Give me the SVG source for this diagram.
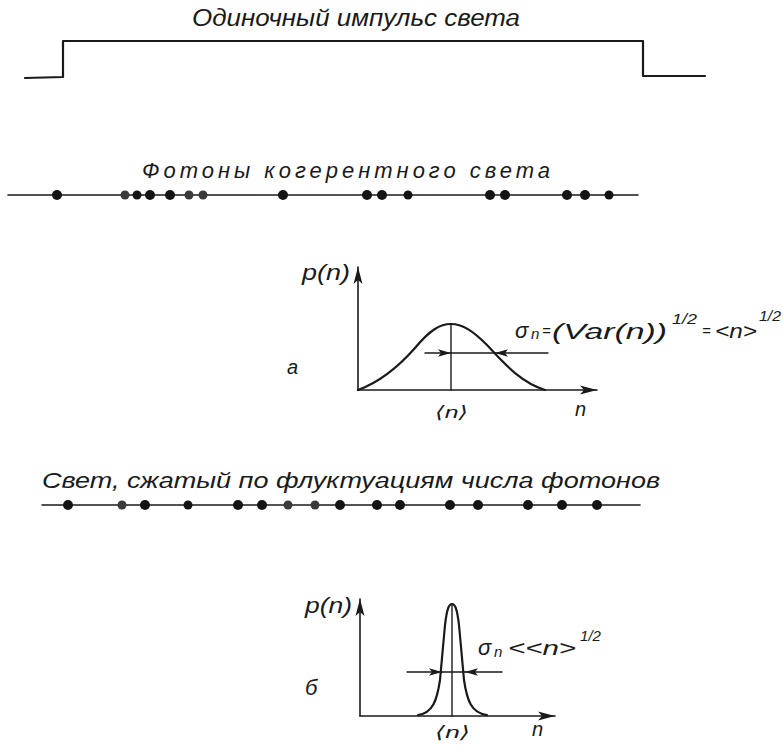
<svg xmlns="http://www.w3.org/2000/svg" width="783" height="747" viewBox="0 0 783 747">
  <style>
    .t { font-family: "Liberation Sans", "DejaVu Sans", sans-serif; font-style: italic; fill: #1a1a1a; }
    .ln { stroke: #1a1a1a; fill: none; stroke-linecap: round; stroke-linejoin: round; }
    .dot { fill: #141414; }
    .dotg { fill: #3a3a3a; }
  </style>
  <defs>
    <marker id="ax" markerUnits="userSpaceOnUse" markerWidth="18" markerHeight="12" viewBox="0 -6 18 12" refX="17" refY="0" orient="auto">
      <path d="M0,-4.5 L17,0 L0,4.5 L4,0 z" fill="#1a1a1a"/>
    </marker>
    <marker id="sa" markerUnits="userSpaceOnUse" markerWidth="14" markerHeight="10" viewBox="0 -5 14 10" refX="13" refY="0" orient="auto">
      <path d="M0,-3.8 L13,0 L0,3.8 L3,0 z" fill="#1a1a1a"/>
    </marker>
  </defs>
  <rect width="783" height="747" fill="#ffffff"/>

  <g id="pulse">
    <text class="t" x="192" y="26" font-size="23" textLength="328" lengthAdjust="spacingAndGlyphs">Одиночный импульс света</text>
    <path class="ln" stroke-width="2.2" d="M25,78 L63,77 L63,41 L643,41 L643,76 L705,76"/>
  </g>

  <g id="coherent">
    <text class="t" x="142" y="178" font-size="22" textLength="408" lengthAdjust="spacing">Фотоны когерентного света</text>
    <line class="ln" stroke-width="1.6" x1="8" y1="195" x2="638" y2="195"/>
    <g class="dot">
      <circle cx="57" cy="195" r="5"/>
      <circle cx="125" cy="195" r="4.5" class="dotg"/>
      <circle cx="137" cy="195" r="4.5"/>
      <circle cx="150" cy="195" r="5"/>
      <circle cx="170" cy="195" r="5"/>
      <circle cx="189" cy="195" r="4.5" class="dotg"/>
      <circle cx="203" cy="195" r="4.5" class="dotg"/>
      <circle cx="283" cy="195" r="5"/>
      <circle cx="367" cy="195" r="5"/>
      <circle cx="382" cy="195" r="5"/>
      <circle cx="408" cy="195" r="4.5"/>
      <circle cx="490" cy="195" r="5"/>
      <circle cx="505" cy="195" r="5"/>
      <circle cx="567" cy="195" r="5"/>
      <circle cx="585" cy="195" r="5"/>
      <circle cx="609" cy="195" r="4.5"/>
    </g>
  </g>

  <g id="graph-a">
    <text class="t" x="302" y="280" font-size="22" textLength="48" lengthAdjust="spacingAndGlyphs">p(n)</text>
    <text class="t" x="287" y="374" font-size="20">а</text>
    <line class="ln" stroke-width="1.6" x1="358" y1="390" x2="358" y2="267" marker-end="url(#ax)"/>
    <line class="ln" stroke-width="1.6" x1="358" y1="390" x2="597" y2="390" marker-end="url(#ax)"/>
    <path class="ln" stroke-width="2.2" d="M358,390 C380,382 400,365 415,348 C430,330 440,324 451,324 C462,324 472,330 487,345 C505,364 520,382 545,390"/>
    <line class="ln" stroke-width="1.4" x1="451" y1="324" x2="451" y2="390"/>
    <line class="ln" stroke-width="1.4" x1="425" y1="353" x2="451" y2="353" marker-end="url(#sa)"/>
    <line class="ln" stroke-width="1.4" x1="451" y1="353" x2="495" y2="353"/>
    <line class="ln" stroke-width="1.4" x1="548" y1="353" x2="495" y2="353" marker-end="url(#sa)"/>
    <text class="t" x="435" y="418" font-size="17" textLength="33" lengthAdjust="spacingAndGlyphs">⟨n⟩</text>
    <text class="t" x="575" y="416" font-size="20">n</text>
    <text class="t" x="515" y="338" font-size="22">σ</text>
    <text class="t" x="531" y="339" font-size="15">n</text>
    <text class="t" x="542" y="336" font-size="15">=</text>
    <text class="t" x="552" y="339" font-size="22" textLength="115" lengthAdjust="spacingAndGlyphs">(Var(n))</text>
    <text class="t" x="672" y="324" font-size="15" textLength="25" lengthAdjust="spacingAndGlyphs">1/2</text>
    <text class="t" x="702" y="336" font-size="15">=</text>
    <text class="t" x="715" y="338" font-size="20" textLength="42" lengthAdjust="spacingAndGlyphs">&lt;n&gt;</text>
    <text class="t" x="759" y="321" font-size="15" textLength="22" lengthAdjust="spacingAndGlyphs">1/2</text>
  </g>

  <g id="squeezed">
    <text class="t" x="42" y="488" font-size="22" textLength="618" lengthAdjust="spacingAndGlyphs">Свет, сжатый по флуктуациям числа фотонов</text>
    <line class="ln" stroke-width="1.6" x1="42" y1="505" x2="640" y2="505"/>
    <g class="dot">
      <circle cx="68" cy="505" r="5"/>
      <circle cx="122" cy="505" r="4.5" class="dotg"/>
      <circle cx="145" cy="505" r="5"/>
      <circle cx="188" cy="505" r="4.5"/>
      <circle cx="238" cy="505" r="5"/>
      <circle cx="262" cy="505" r="5"/>
      <circle cx="288" cy="505" r="4.5" class="dotg"/>
      <circle cx="315" cy="505" r="4.5" class="dotg"/>
      <circle cx="340" cy="505" r="5"/>
      <circle cx="377" cy="505" r="5"/>
      <circle cx="400" cy="505" r="5"/>
      <circle cx="450" cy="505" r="5"/>
      <circle cx="478" cy="505" r="5"/>
      <circle cx="528" cy="505" r="5"/>
      <circle cx="562" cy="505" r="5"/>
      <circle cx="597" cy="505" r="5"/>
    </g>
  </g>

  <g id="graph-b">
    <text class="t" x="305" y="613" font-size="22" textLength="47" lengthAdjust="spacingAndGlyphs">p(n)</text>
    <text class="t" x="305" y="695" font-size="22">б</text>
    <line class="ln" stroke-width="1.6" x1="360" y1="716" x2="360" y2="599" marker-end="url(#ax)"/>
    <line class="ln" stroke-width="1.6" x1="360" y1="716" x2="555" y2="716" marker-end="url(#ax)"/>
    <path class="ln" stroke-width="2.2" d="M418,715 C433,713 437,700 440,680 L445,625 C447,608 449,604 452,604 C455,604 457,608 459,625 L464,680 C467,700 471,713 487,715"/>
    <line class="ln" stroke-width="1.4" x1="452" y1="605" x2="452" y2="716"/>
    <line class="ln" stroke-width="1.4" x1="407" y1="672" x2="442" y2="672" marker-end="url(#sa)"/>
    <line class="ln" stroke-width="1.4" x1="442" y1="672" x2="465" y2="672"/>
    <line class="ln" stroke-width="1.4" x1="502" y1="672" x2="465" y2="672" marker-end="url(#sa)"/>
    <text class="t" x="478" y="655" font-size="22">σ</text>
    <text class="t" x="494" y="657" font-size="15">n</text>
    <text class="t" x="508" y="655" font-size="20" textLength="68" lengthAdjust="spacingAndGlyphs">&lt;&lt;n&gt;</text>
    <text class="t" x="580" y="641" font-size="15" textLength="21" lengthAdjust="spacingAndGlyphs">1/2</text>
    <text class="t" x="435" y="738" font-size="17" textLength="35" lengthAdjust="spacingAndGlyphs">⟨n⟩</text>
    <text class="t" x="532" y="736" font-size="20">n</text>
  </g>
</svg>
